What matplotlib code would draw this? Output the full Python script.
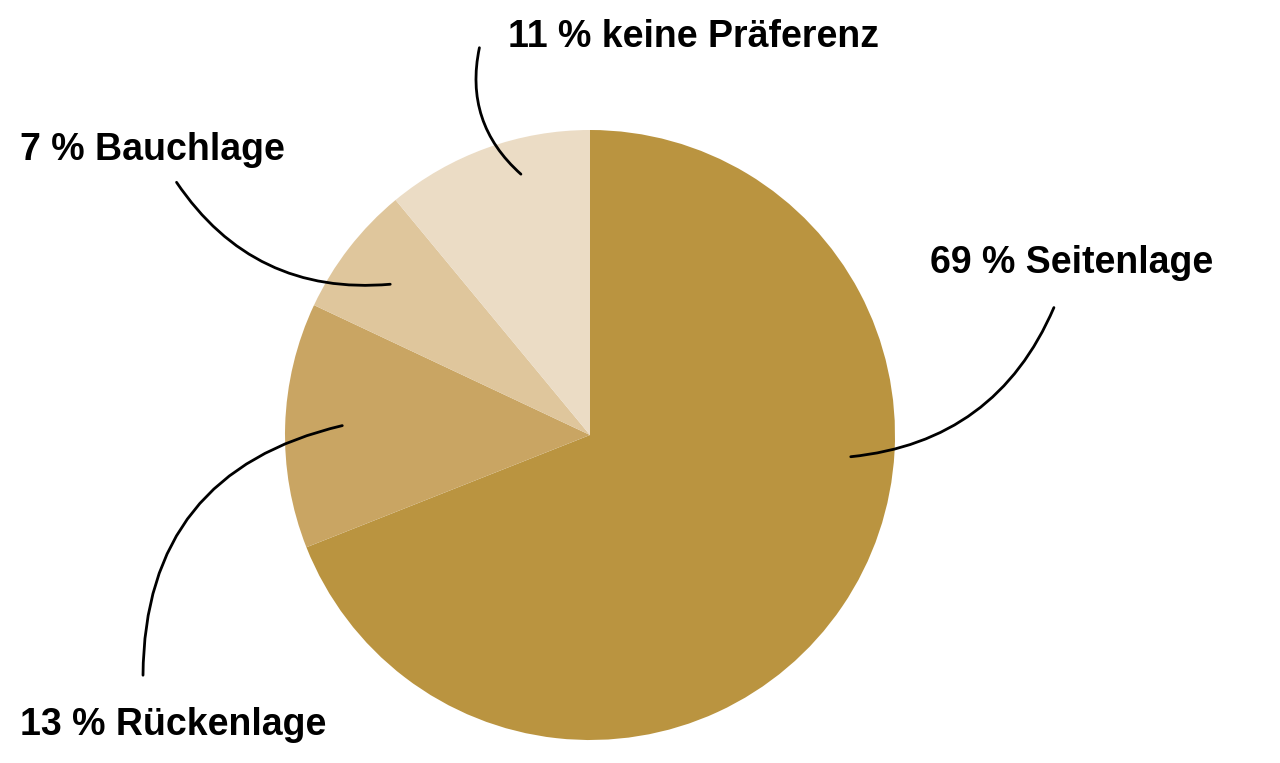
import matplotlib.pyplot as plt
from matplotlib.patches import FancyArrowPatch

labels = ['69 % Seitenlage', '13 % Rückenlage', '7 % Bauchlage', '11 % keine Präferenz']
values = [69, 13, 7, 11]
colors = ['#BA9440', '#C9A563', '#DFC69C', '#EBDCC5']

fig = plt.figure(figsize=(12.8, 7.63), dpi=100)
ax = fig.add_axes([0, 0, 1, 1])
ax.set_xlim(0, 1280)
ax.set_ylim(763, 0)
ax.set_aspect('equal')
ax.axis('off')

ax.pie(values, colors=colors, startangle=-90, counterclock=True,
       center=(590, 435), radius=305, wedgeprops={'linewidth': 0})
ax.set_xlim(0, 1280)
ax.set_ylim(763, 0)

# label text positions and connector lines (start near text, end inside wedge)
text_pos = [(930, 263), (20, 725), (20, 150), (508, 37)]
line_pts = [((1055, 305), (848, 457), -0.3),
            ((143, 678), (345, 425), -0.4),
            ((175, 180), (393, 284), 0.3),
            ((480, 45), (523, 176), 0.3)]

for lab, (tx, ty) in zip(labels, text_pos):
    ax.text(tx, ty, lab, fontsize=27, fontweight='bold', family='Liberation Sans',
            ha='left', va='center')

for p1, p2, rad in line_pts:
    ax.add_patch(FancyArrowPatch(p1, p2, arrowstyle='-', lw=2, color='black',
                                 connectionstyle=f'arc3,rad={rad}'))

fig.savefig('out.png', dpi=100)
